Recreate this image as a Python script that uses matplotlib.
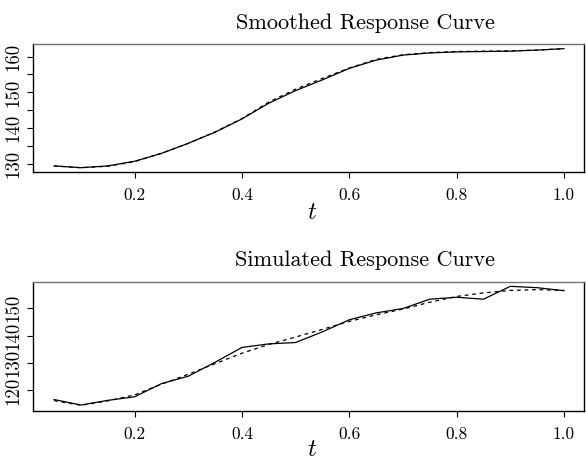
#!/usr/bin/env python3
"""Smoothed vs simulated response curves, two stacked panels."""

import matplotlib

matplotlib.use("Agg")
import matplotlib.pyplot as plt


plt.rcParams["font.family"] = "serif"
plt.rcParams["font.serif"] = ["cmr10", "DejaVu Serif"]
plt.rcParams["mathtext.fontset"] = "cm"
plt.rcParams["axes.unicode_minus"] = False

t = [0.05, 0.10, 0.15, 0.20, 0.25, 0.30, 0.35, 0.40, 0.45, 0.50,
     0.55, 0.60, 0.65, 0.70, 0.75, 0.80, 0.85, 0.90, 0.95, 1.00]

smooth_fit = [129.5, 129.0, 129.5, 130.8, 133.0, 135.8, 138.9, 142.6, 147.0, 150.5,
              153.5, 156.7, 159.0, 160.4, 161.0, 161.3, 161.4, 161.5, 161.8, 162.2]
smooth_true = [129.5, 129.0, 129.4, 130.7, 133.0, 135.8, 139.0, 142.7, 147.3, 150.9,
               153.9, 156.8, 159.2, 160.5, 161.1, 161.4, 161.5, 161.6, 161.8, 162.2]

sim_obs = [116.7, 114.7, 116.4, 117.7, 122.5, 125.2, 130.3, 135.7, 137.0, 137.5,
           141.4, 145.8, 148.3, 149.9, 153.3, 154.0, 153.3, 158.0, 157.5, 156.4]
sim_fit = [116.3, 114.6, 116.2, 118.4, 122.3, 125.9, 129.8, 133.6, 136.8, 139.5,
           142.3, 145.2, 147.6, 149.7, 152.2, 154.3, 155.6, 156.5, 156.8, 156.5]

x_ticks = [0.2, 0.4, 0.6, 0.8, 1.0]
x_ticklabels = ["0.2", "0.4", "0.6", "0.8", "1.0"]
top_yticks = [130, 135, 140, 145, 150, 155, 160]
top_yticklabels = ["130", "", "140", "", "150", "", "160"]
bot_yticks = [120, 130, 140, 150]
bot_yticklabels = ["120", "130", "140", "150"]

W, H = 586, 466


def style_axes(ax, yticks, yticklabels, ylim):
    ax.set_xlim(0.0107, 1.0373)
    ax.set_ylim(*ylim)
    ax.set_xticks(x_ticks)
    ax.set_xticklabels(x_ticklabels)
    ax.set_yticks(yticks)
    ax.set_yticklabels(yticklabels, rotation=90, va="center")
    ax.tick_params(direction="out", length=4.5, width=0.8, pad=3)
    ax.tick_params(axis="x", labelsize=12.5, pad=7)
    ax.tick_params(axis="y", labelsize=13.5)
    for side in ["left", "bottom", "right"]:
        ax.spines[side].set_color("black")
        ax.spines[side].set_linewidth(1.0)
    ax.spines["top"].set_color("0.45")
    ax.spines["top"].set_linewidth(1.0)


def main() -> None:
    fig = plt.figure(figsize=(W / 100, H / 100), dpi=100)

    ax1 = fig.add_axes([33 / W, 1 - 172 / H, 551 / W, 128 / H])
    ax1.plot(t, smooth_fit, color="black", lw=0.9)
    ax1.plot(t, smooth_true, color="black", lw=0.9, ls=(0, (3, 3)))
    style_axes(ax1, top_yticks, top_yticklabels, (127.8, 163.5))

    ax2 = fig.add_axes([33 / W, 1 - 410.5 / H, 551 / W, 128.3 / H])
    ax2.plot(t, sim_obs, color="black", lw=0.9)
    ax2.plot(t, sim_fit, color="black", lw=0.9, ls=(0, (3, 3)))
    style_axes(ax2, bot_yticks, bot_yticklabels, (112.7, 159.5))

    fig.text(365 / W, 1 - 23 / H, "Smoothed Response Curve", ha="center", va="center", fontsize=16)
    fig.text(365 / W, 1 - 260 / H, "Simulated Response Curve", ha="center", va="center", fontsize=16)
    fig.text(312 / W, 1 - 213 / H, "$t$", ha="center", va="center", fontsize=18)
    fig.text(312 / W, 1 - 450 / H, "$t$", ha="center", va="center", fontsize=18)

    fig.savefig("out.png", dpi=100)
    plt.close(fig)


if __name__ == "__main__":
    main()
